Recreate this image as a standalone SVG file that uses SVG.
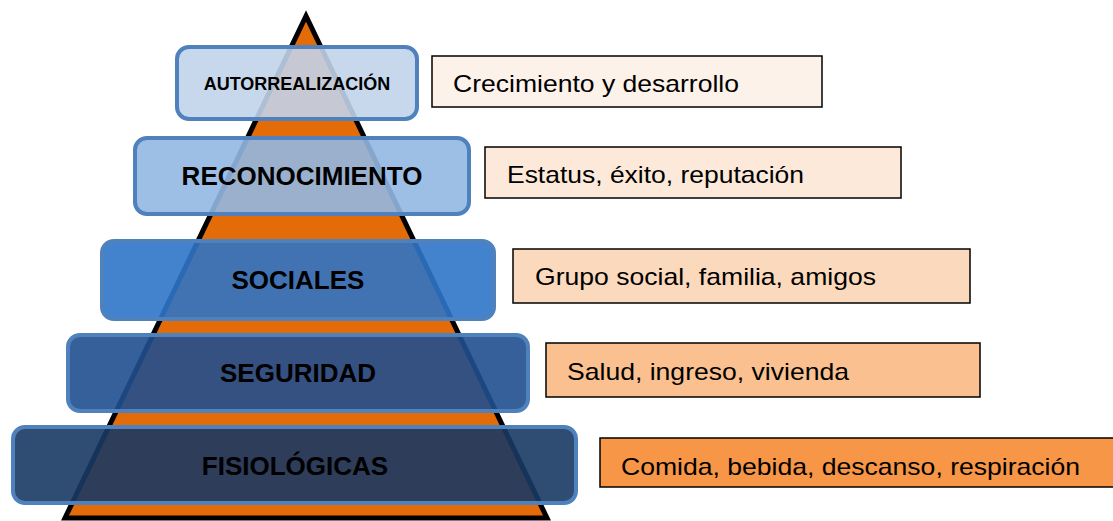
<svg xmlns="http://www.w3.org/2000/svg" width="1113" height="521" viewBox="0 0 1113 521">
<style>
.lvl{stroke:#4F81BD;stroke-width:4;fill-opacity:0.9}
.lbl{font-family:"Liberation Sans",Arial,sans-serif;font-weight:bold;fill:#000;text-anchor:middle}
.desc{stroke:#000;stroke-width:1.5}
.dt{font-family:"Liberation Sans",Arial,sans-serif;font-size:24px;fill:#000}
</style>
<rect width="1113" height="521" fill="#fff"/>
<g id="pyramid">
<polygon points="306,16 65,518 547,518" fill="#E36C09" stroke="#000" stroke-width="5" stroke-linejoin="miter"/>
</g>
<g id="connectors"></g>
<g id="autorrealizacion">
<rect class="lvl" x="177" y="47" width="240" height="72" rx="12" fill="#C2D4EA"/>
<text class="lbl" x="297" y="90" font-size="18">AUTORREALIZACIÓN</text>
</g>
<g id="reconocimiento">
<rect class="lvl" x="135" y="138" width="334" height="76" rx="12" fill="#92B8E3"/>
<text class="lbl" x="302" y="185" font-size="26">RECONOCIMIENTO</text>
</g>
<g id="sociales">
<rect class="lvl" x="102" y="241" width="392" height="78" rx="12" fill="#2F74C6"/>
<text class="lbl" x="298" y="289" font-size="26">SOCIALES</text>
</g>
<g id="seguridad">
<rect class="lvl" x="68" y="335" width="460" height="76" rx="12" fill="#204F8F"/>
<text class="lbl" x="298" y="382" font-size="26">SEGURIDAD</text>
</g>
<g id="fisiologicas">
<rect class="lvl" x="13" y="427" width="563" height="76" rx="12" fill="#183964"/>
<text class="lbl" x="295" y="475" font-size="26">FISIOLÓGICAS</text>
</g>
<g id="d-crecimiento">
<rect class="desc" x="432" y="56" width="390" height="51" fill="#FDF2E9"/>
<text class="dt" x="453" y="92" textLength="286" lengthAdjust="spacingAndGlyphs">Crecimiento y desarrollo</text>
</g>
<g id="d-estatus">
<rect class="desc" x="485" y="147" width="416" height="51" fill="#FDE9D9"/>
<text class="dt" x="507" y="183" textLength="297" lengthAdjust="spacingAndGlyphs">Estatus, éxito, reputación</text>
</g>
<g id="d-grupo">
<rect class="desc" x="513" y="249" width="457" height="54" fill="#FBD9BD"/>
<text class="dt" x="535" y="285" textLength="341" lengthAdjust="spacingAndGlyphs">Grupo social, familia, amigos</text>
</g>
<g id="d-salud">
<rect class="desc" x="546" y="343" width="434" height="54" fill="#FAC090"/>
<text class="dt" x="567" y="380" textLength="282" lengthAdjust="spacingAndGlyphs">Salud, ingreso, vivienda</text>
</g>
<g id="d-comida">
<rect class="desc" x="600" y="438" width="515" height="49" fill="#F79646"/>
<text class="dt" x="621" y="475" textLength="459" lengthAdjust="spacingAndGlyphs">Comida, bebida, descanso, respiración</text>
</g>
</svg>
